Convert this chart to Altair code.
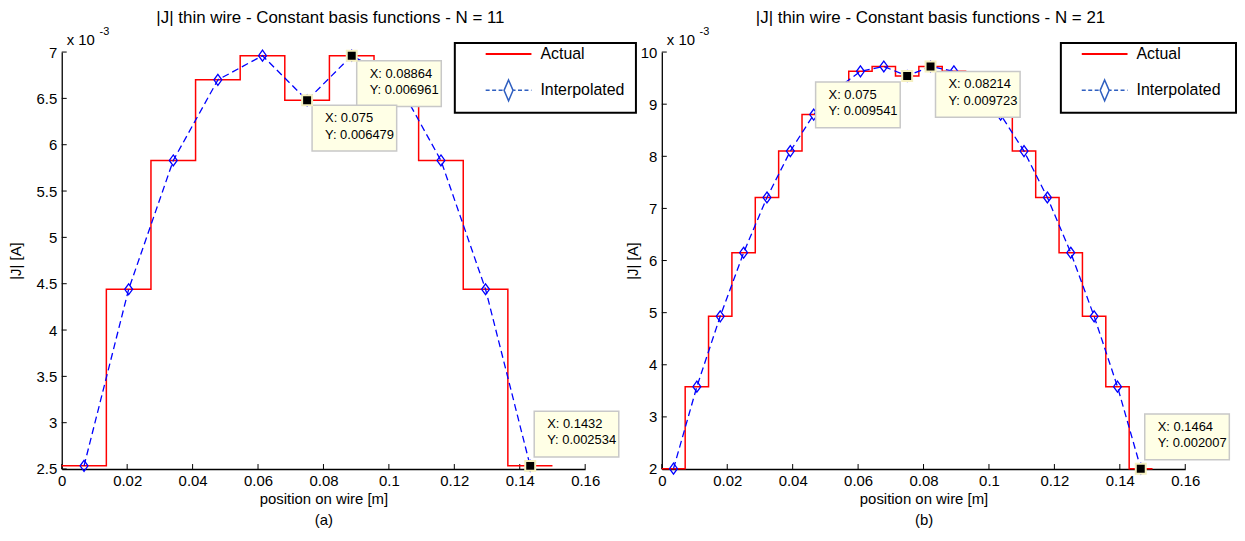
import altair as alt
import numpy as np
import pandas as pd

# ---------------- data ----------------
WIRE_LENGTH = 0.15  # m

current_a = [2.534e-3, 4.44e-3, 5.83e-3, 6.70e-3, 6.961e-3, 6.479e-3,
             6.961e-3, 6.70e-3, 5.83e-3, 4.44e-3, 2.534e-3]
current_b = [2.007e-3, 3.58e-3, 4.93e-3, 6.15e-3, 7.21e-3, 8.10e-3, 8.80e-3,
             9.30e-3, 9.63e-3, 9.723e-3, 9.541e-3, 9.723e-3, 9.63e-3, 9.30e-3,
             8.80e-3, 8.10e-3, 7.21e-3, 6.15e-3, 4.93e-3, 3.58e-3, 2.007e-3]

tips_a_x = [0.08864, 0.075, 0.1432]
tips_a_y = [0.006961, 0.006479, 0.002534]
tips_a_place = ["rb", "rb", "ra"]

tips_b_x = [0.075, 0.08214, 0.1464]
tips_b_y = [0.009541, 0.009723, 0.002007]
tips_b_place = ["lb", "rb", "ra"]

x_ticks = [0, 0.02, 0.04, 0.06, 0.08, 0.1, 0.12, 0.14, 0.16]
y_ticks_a = [0.0025, 0.003, 0.0035, 0.004, 0.0045, 0.005, 0.0055, 0.006, 0.0065, 0.007]
y_ticks_b = [0.002, 0.003, 0.004, 0.005, 0.006, 0.007, 0.008, 0.009, 0.010]

legend_labels = ["Actual", "Interpolated"]

# ---------------- style ----------------
FONT = "Liberation Sans"
W, H = 526, 419
RED = "#ff0000"
BLUE = "#0000ff"
DIAMOND = "M0,-1L0.72,0L0,1L-0.72,0Z"
LEG_DIAMOND = "M0,-1L0.43,0L0,1L-0.43,0Z"

PLACES = {
    "rb": (5, 90, 5, 51),
    "lb": (-92, -7, 6, 52),
    "ra": (4, 89, -55, -9),
}


def panel(current, tx, ty, tplace, y_dom, y_ticks, y_title_x, title, sub,
          box_left, shift):
    n = len(current)
    edges = np.linspace(0.0, WIRE_LENGTH, n + 1)
    step_df = pd.DataFrame({"x": edges, "y": list(current) + [current[-1]]})
    ctr_df = pd.DataFrame({"x": (edges[:-1] + edges[1:]) / 2, "y": current})
    tip_df = pd.DataFrame({
        "x": tx, "y": ty, "place": tplace,
        "label": [f"X: {a:.4g}\nY: {b:.4g}" for a, b in zip(tx, ty)],
    })

    xscale = alt.Scale(domain=[0, 0.16], nice=False, zero=False)
    yscale = alt.Scale(domain=y_dom, nice=False, zero=False)
    xaxis = alt.Axis(values=x_ticks, format="~g", title=["position on wire [m]", sub],
                     titleLineHeight=21, titlePadding=3, labelPadding=5,
                     labelFlush=False, grid=False)
    yaxis = alt.Axis(values=y_ticks, labelExpr="format(datum.value*1000, '~g')",
                     title="|J| [A]", titleX=y_title_x, titleY=H / 2,
                     titleBaseline="middle", titleAngle=-90, labelPadding=5,
                     grid=False)

    def X(f):
        return alt.X(f"{f}:Q", scale=xscale, axis=xaxis)

    def Y(f):
        return alt.Y(f"{f}:Q", scale=yscale, axis=yaxis)

    step = alt.Chart(step_df).mark_line(
        interpolate="step-after", color=RED, strokeWidth=1.5
    ).encode(x=X("x"), y=Y("y"))

    interp = alt.Chart(ctr_df).mark_line(
        color=BLUE, strokeWidth=1.3, strokeDash=[7, 4]
    ).encode(x=X("x"), y=Y("y"))

    marks = alt.Chart(ctr_df).mark_point(
        shape=DIAMOND, size=121, filled=False, color=BLUE, strokeWidth=1.3, opacity=1
    ).encode(x=X("x"), y=Y("y"))

    xt = alt.Chart(pd.DataFrame({"t": x_ticks})).mark_rule(color="black", strokeWidth=1).encode(
        x=X("t"), y=alt.value(H), y2=alt.value(H - 5))
    yt = alt.Chart(pd.DataFrame({"t": y_ticks})).mark_rule(color="black", strokeWidth=1).encode(
        y=Y("t"), x=alt.value(0), x2=alt.value(5))

    layers = [xt, yt, step, interp, marks]

    for key, (dx1, dx2, dy1, dy2) in PLACES.items():
        sub_df = tip_df[tip_df["place"] == key]
        if sub_df.empty:
            continue
        base = alt.Chart(sub_df)
        box = base.mark_rect(
            fill="#ffffe6", stroke="#c8c8c8", strokeWidth=1.5,
            xOffset=dx1, x2Offset=dx2, yOffset=dy1, y2Offset=dy2,
        ).encode(x=X("x"), x2=alt.X2("x"), y=Y("y"), y2=alt.Y2("y"))
        txt = base.mark_text(
            align="left", baseline="top", dx=dx1 + 13, dy=dy1 + 7,
            font=FONT, fontSize=13, lineHeight=16.5, lineBreak="\n", color="black",
        ).encode(x=X("x"), y=Y("y"), text="label:N")
        layers += [box, txt]

    sq = alt.Chart(tip_df).mark_point(
        shape="square", size=100, filled=True, fill="black", stroke="#f5f0c0",
        strokeWidth=2, opacity=1,
    ).encode(x=X("x"), y=Y("y"))
    layers.append(sq)

    # exponent text
    e1 = alt.Chart(pd.DataFrame({"s": ["x 10"]})).mark_text(
        align="left", baseline="middle", font=FONT, fontSize=15, color="black"
    ).encode(x=alt.value(5), y=alt.value(-12), text="s:N")
    e2 = alt.Chart(pd.DataFrame({"s": ["-3"]})).mark_text(
        align="left", baseline="middle", font=FONT, fontSize=11, color="black"
    ).encode(x=alt.value(38), y=alt.value(-20), text="s:N")
    layers += [e1, e2]

    # legend box
    lx2, ly1, ly2 = 577, -9, 61
    lbox = alt.Chart(pd.DataFrame({"a": [0]})).mark_rect(
        fill="white", stroke="black", strokeWidth=2
    ).encode(x=alt.value(box_left), x2=alt.value(lx2), y=alt.value(ly1), y2=alt.value(ly2))
    lred = alt.Chart(pd.DataFrame({"a": [0]})).mark_rule(color=RED, strokeWidth=2).encode(
        x=alt.value(426 + shift), x2=alt.value(472 + shift), y=alt.value(2))
    lblue = alt.Chart(pd.DataFrame({"a": [0]})).mark_rule(
        color="#2f5fc0", strokeWidth=1.5, strokeDash=[4, 2.5]).encode(
        x=alt.value(426 + shift), x2=alt.value(472 + shift), y=alt.value(38.5))
    ldia = alt.Chart(pd.DataFrame({"a": [0]})).mark_point(
        shape=LEG_DIAMOND, size=441, filled=True, fill="white", stroke="#2f5fc0",
        strokeWidth=1.5, opacity=1).encode(x=alt.value(449 + shift), y=alt.value(38.5))
    ltxt = alt.Chart(pd.DataFrame({"s": legend_labels, "yy": [2, 38.5]})).mark_text(
        align="left", baseline="middle", font=FONT, fontSize=16, color="black"
    ).encode(x=alt.value(481 + shift), y=alt.Y("yy:Q", scale=None), text="s:N")
    layers += [lbox, lred, lblue, ldia, ltxt]

    return alt.layer(*layers).properties(
        width=W, height=H,
        title=alt.TitleParams(title, fontSize=17, font=FONT, fontWeight="normal",
                              color="black", anchor="middle", dx=7, offset=-1),
    )


left = panel(current_a, tips_a_x, tips_a_y, tips_a_place, [0.0025, 0.007], y_ticks_a, -46,
             "|J| thin wire - Constant basis functions - N = 11", "(a)", 395, 0)
right = panel(current_b, tips_b_x, tips_b_y, tips_b_place, [0.002, 0.010], y_ticks_b, -29,
              "|J| thin wire - Constant basis functions - N = 21", "(b)", 401, -4)

chart = alt.hconcat(left, right, spacing=77, bounds="flush").properties(
    padding={"left": 1, "top": 0, "right": 0, "bottom": 0}
).configure(
    background="white"
).configure_view(
    stroke=None
).configure_axis(
    grid=False, domainColor="black", domainWidth=1.3, tickSize=0,
    labelFont=FONT, labelFontSize=15, labelColor="black",
    titleFont=FONT, titleFontSize=15, titleFontWeight="normal", titleColor="black",
)

chart.save("out.html", embed_options={"renderer": "svg", "actions": False})
